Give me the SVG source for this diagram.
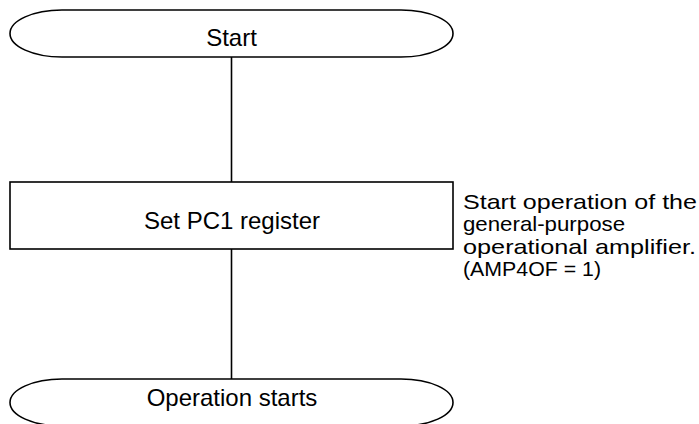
<svg xmlns="http://www.w3.org/2000/svg" width="699" height="424" viewBox="0 0 699 424">
<style>
.shape{fill:#fff;stroke:#000;stroke-width:1.6}
.line{fill:none;stroke:#000;stroke-width:1.6}
text{font-family:"Liberation Sans",Arial,sans-serif;font-size:24px;fill:#000}
.c{text-anchor:middle}
.n{font-size:21px}
</style>
<rect width="699" height="424" fill="#fff"/>
<g id="connectors">
<line class="line" x1="231.5" y1="57" x2="231.5" y2="182"/>
<line class="line" x1="231.5" y1="249" x2="231.5" y2="379"/>
</g>
<g id="start">
<path class="shape" d="M62 10 H401 A52 23.5 0 0 1 401 57 H62 A52 23.5 0 0 1 62 10 Z"/>
<text class="c" x="231.5" y="46">Start</text>
</g>
<g id="setpc1">
<rect class="shape" x="10" y="182" width="443" height="67"/>
<text class="c" x="232" y="228.5">Set PC1 register</text>
</g>
<g id="note">
<text class="n" x="463" y="208.5" textLength="234" lengthAdjust="spacingAndGlyphs">Start operation of the</text>
<text class="n" x="463" y="231" textLength="162" lengthAdjust="spacingAndGlyphs">general-purpose</text>
<text class="n" x="463" y="253.5" textLength="233" lengthAdjust="spacingAndGlyphs">operational amplifier.</text>
<text class="n" x="463" y="276" textLength="138" lengthAdjust="spacingAndGlyphs">(AMP4OF = 1)</text>
</g>
<g id="end">
<path class="shape" d="M62 379 H401 A52 23.5 0 0 1 401 426 H62 A52 23.5 0 0 1 62 379 Z"/>
<text class="c" x="232" y="406">Operation starts</text>
</g>
</svg>
